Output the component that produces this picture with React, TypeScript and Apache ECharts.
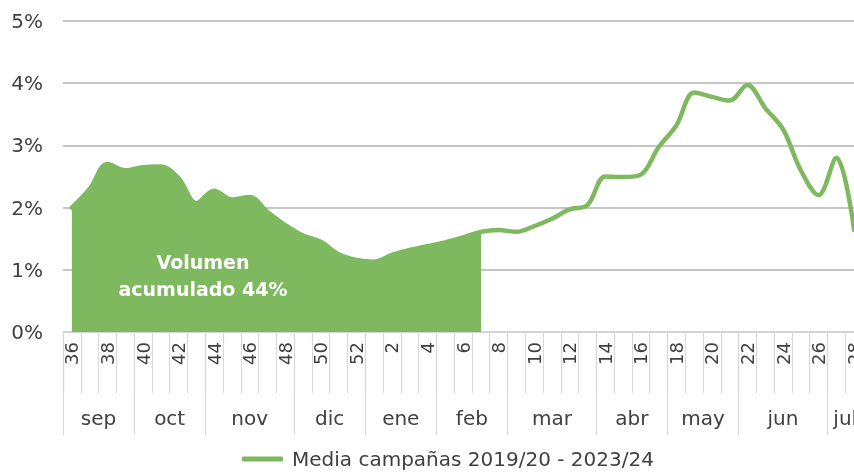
import React, { useEffect, useRef } from "react";
import * as echarts from "echarts";

const weeks: string[] = [
  "36", "37", "38", "39", "40", "41", "42", "43", "44", "45", "46", "47", "48", "49", "50", "51", "52",
  "1", "2", "3", "4", "5", "6", "7", "8", "9", "10", "11", "12", "13", "14", "15", "16", "17", "18",
  "19", "20", "21", "22", "23", "24", "25", "26", "27", "28",
];

const mediaValues: number[] = [
  2.0, 2.3, 2.7, 2.6, 2.65, 2.66, 2.47, 2.07, 2.27, 2.13, 2.17, 1.93, 1.72, 1.55, 1.45, 1.25, 1.16,
  1.13, 1.24, 1.32, 1.38, 1.44, 1.52, 1.61, 1.64, 1.61, 1.7, 1.82, 1.97, 2.04, 2.5, 2.49, 2.53, 2.97,
  3.32, 3.85, 3.78, 3.72, 3.97, 3.6, 3.26, 2.6, 2.2, 2.8, 1.64,
];

const monthNames: string[] = ["sep", "oct", "nov", "dic", "ene", "feb", "mar", "abr", "may", "jun", "jul"];
const monthWeekCounts: number[] = [4, 4, 5, 4, 4, 4, 5, 4, 4, 5, 2];

const yTicks: number[] = [0, 1, 2, 3, 4, 5];

const seriesName = "Media campañas 2019/20 - 2023/24";
const accumulatedLabel = ["Volumen", "acumulado 44%"];
const accumulatedEndWeek = "7";

const GREEN = "#7eb95f";
const FONT = "DejaVu Sans";

export default function App() {
  const ref = useRef<HTMLDivElement>(null);

  useEffect(() => {
    if (!ref.current) return;
    const chart = echarts.init(ref.current, undefined, { renderer: "svg" });

    const bounds: number[] = [0];
    const centers: number[] = [];
    monthWeekCounts.forEach((c) => {
      const start = bounds[bounds.length - 1];
      centers.push(start + c / 2);
      bounds.push(start + c);
    });
    const total = bounds[bounds.length - 1];
    const endIdx = weeks.indexOf(accumulatedEndWeek);
    const frac = endIdx / (weeks.length - 1);

    chart.setOption({
      animation: false,
      textStyle: { fontFamily: FONT },
      grid: { left: 63, top: 21, width: 800, height: 311, outerBoundsMode: "none", containLabel: false },
      legend: {
        left: 237,
        top: 444,
        icon: "roundRect",
        itemWidth: 41,
        itemHeight: 5,
        itemGap: 10,
        textStyle: { fontSize: 20, color: "#404040", fontFamily: FONT, padding: [0, 0, 0, 4] },
        data: [seriesName],
      },
      xAxis: [
        {
          type: "category",
          data: weeks,
          boundaryGap: true,
          position: "bottom",
          axisLine: { lineStyle: { color: "#d9d9d9", width: 1.5 } },
          axisTick: { show: true, interval: 0, length: 61, lineStyle: { color: "#d9d9d9", width: 1.2 } },
          axisLabel: { interval: 1, rotate: 90, margin: 10, fontSize: 18, color: "#404040", fontFamily: FONT },
          splitLine: { show: false },
        },
        {
          type: "value",
          min: 0,
          max: total,
          position: "bottom",
          axisLine: { show: false },
          splitLine: { show: false },
          axisTick: { show: true, customValues: bounds, length: 103, lineStyle: { color: "#d9d9d9", width: 1.2 } },
          axisLabel: {
            customValues: centers,
            margin: 76,
            fontSize: 20,
            color: "#404040",
            fontFamily: FONT,
            formatter: (v: number) => {
              const i = centers.findIndex((c) => Math.abs(c - v) < 1e-6);
              return i >= 0 ? monthNames[i] : "";
            },
          },
        },
      ],
      yAxis: {
        type: "value",
        min: yTicks[0],
        max: yTicks[yTicks.length - 1],
        interval: 1,
        axisLine: { show: false },
        axisTick: { show: false },
        axisLabel: { formatter: "{value}%", fontSize: 20, color: "#404040", margin: 20, fontFamily: FONT },
        splitLine: { lineStyle: { color: "#b3b3b3", width: 1.5 } },
      },
      series: [
        {
          name: seriesName,
          type: "line",
          xAxisIndex: 0,
          data: mediaValues,
          smooth: 0.35,
          symbol: "none",
          color: GREEN,
          lineStyle: { color: GREEN, width: 4.5, cap: "round" },
          areaStyle: {
            opacity: 1,
            color: {
              type: "linear",
              x: 0,
              y: 0,
              x2: 1,
              y2: 0,
              colorStops: [
                { offset: 0, color: GREEN },
                { offset: frac, color: GREEN },
                { offset: frac, color: "rgba(255,255,255,0)" },
                { offset: 1, color: "rgba(255,255,255,0)" },
              ],
            },
          },
        },
      ],
      graphic: [
        {
          type: "text",
          x: 203,
          y: 248,
          z: 100,
          style: {
            text: accumulatedLabel.join("\n"),
            fill: "#ffffff",
            fontSize: 19,
            fontWeight: "bold",
            fontFamily: FONT,
            align: "center",
            verticalAlign: "top",
            lineHeight: 27,
          },
        },
      ],
    });

    return () => chart.dispose();
  }, []);

  return <div ref={ref} style={{ position: "fixed", left: 0, top: 0, width: 854, height: 475 }} />;
}
